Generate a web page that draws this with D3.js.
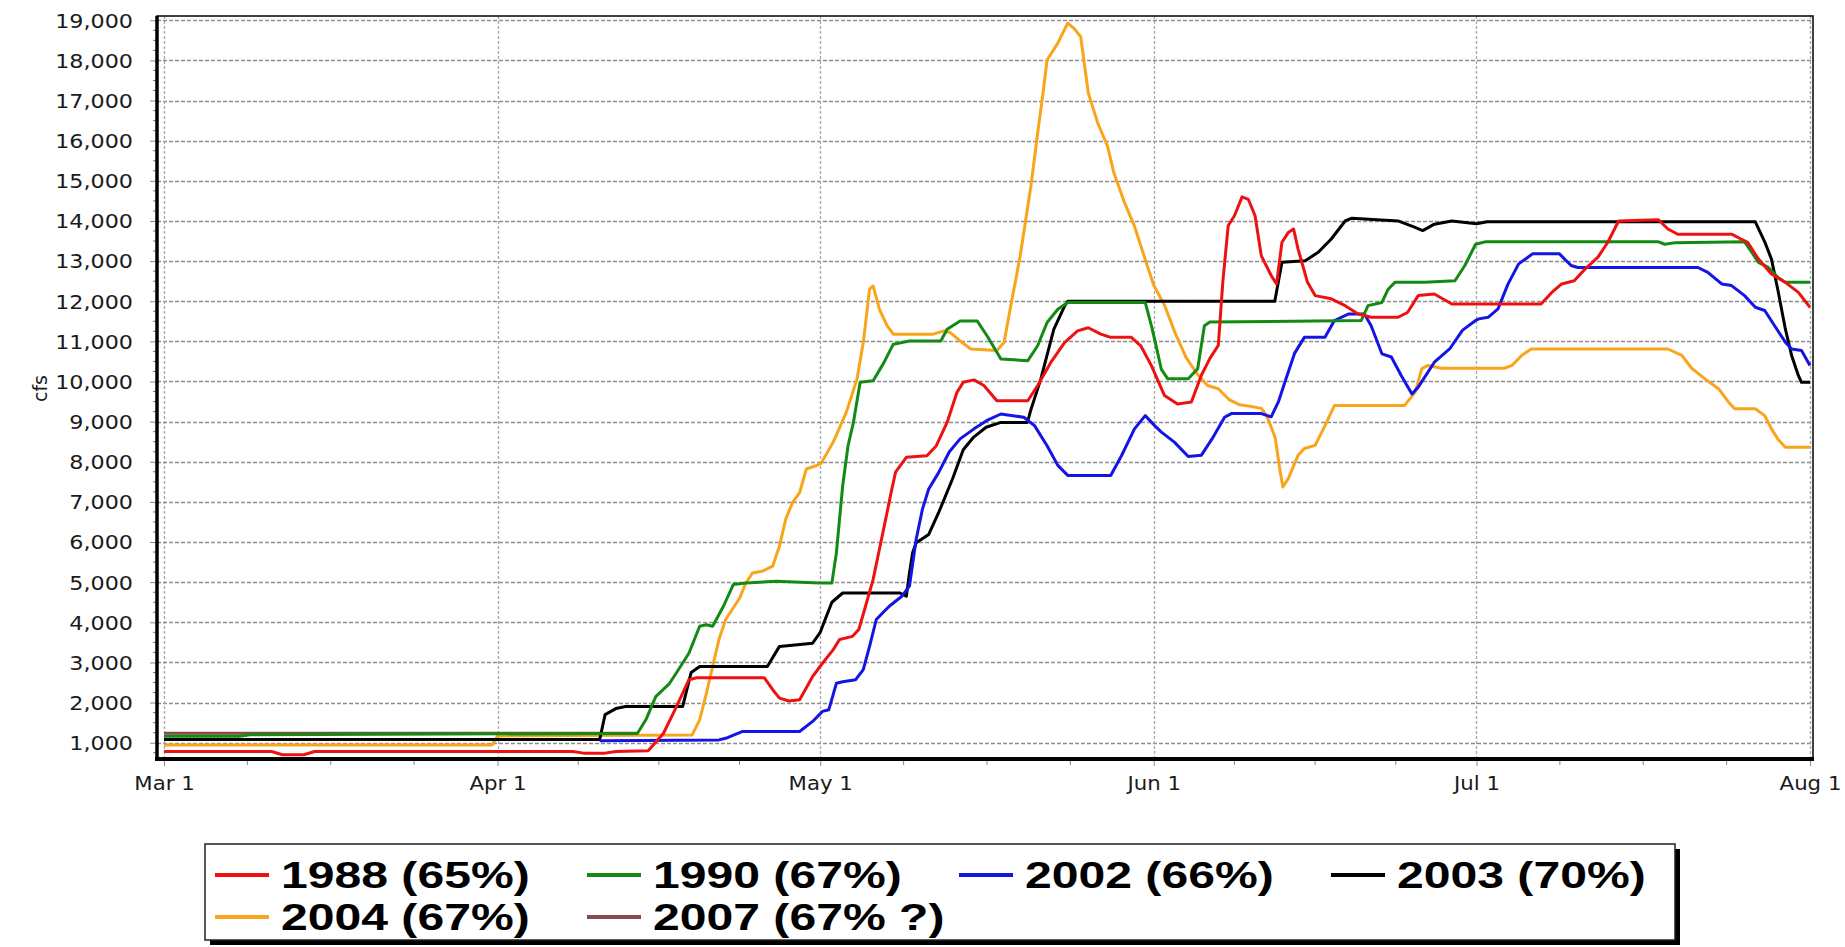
<!DOCTYPE html>
<html>
<head>
<meta charset="utf-8">
<script src="https://cdnjs.cloudflare.com/ajax/libs/d3/7.8.5/d3.min.js"></script>
<style>
	html, body { margin: 0; padding: 0; background: #fff; }
	svg { display: block; }
	.axis-label { font-family: "DejaVu Sans", Verdana, sans-serif; font-size: 19px; fill: #1a1a1a; }
	.legend-text { font-family: "Liberation Sans", Arial, sans-serif; font-weight: bold; font-size: 37px; fill: #000; }
</style>
</head>
<body>
<div id="chart"></div>
<script>

////////////////////////////////////////////////////////////
///////////////////////// Data /////////////////////////////
////////////////////////////////////////////////////////////

var seriesNames  = ["1988 (65%)", "1990 (67%)", "2002 (66%)", "2003 (70%)", "2004 (67%)", "2007 (67% ?)"];
var seriesColors = ["#ee1111", "#138a13", "#1414e6", "#000000", "#f8a51c", "#8b4a4a"];

//[date "MM-DD HH", cfs]
var flow1988 = [
	["03-01",780],["03-11",780],["03-12",700],["03-14",700],["03-15",780],["04-08",780],["04-09",740],["04-11",740],["04-12",780],
	["04-15",800],["04-16 10",1230],["04-17 08",1730],["04-18 05",2230],["04-18 19",2570],["04-19 12",2620],["04-25 19",2620],
	["04-26 14",2320],["04-27 05",2110],["04-28 02",2040],["04-29 02",2070],["04-30 07",2650],["05-01 05",2980],["05-02 05",3320],
	["05-02 19",3570],["05-04",3650],["05-04 14",3820],["05-05 05",4400],["05-05 22",5070],["05-06 12",5820],["05-07 02",6570],
	["05-07 14",7230],["05-08",7740],["05-09",8110],["05-10 22",8150],["05-11 19",8400],["05-12 19",8980],["05-13 17",9730],
	["05-14 07",9980],["05-15 07",10040],["05-16 05",9900],["05-17 10",9520],["05-20 07",9520],["05-21 05",9900],["05-22 10",10470],
	["05-23 17",10970],["05-24 22",11260],["05-25 22",11340],["05-27 02",11180],["05-28",11100],["05-29 22",11100],["05-30 19",10890],
	["05-31 19",10390],["06-02",9650],["06-03 05",9440],["06-04 12",9490],["06-05 10",10150],["06-06 05",10570],["06-07",10900],
	["06-07 10",12470],["06-07 22",13880],["06-08 12",14130],["06-09 05",14600],["06-09 19",14540],["06-10 10",14130],["06-11",13130],
	["06-11 22",12640],["06-12 10",12430],["06-12 22",13470],["06-13 12",13710],["06-14",13800],["06-14 10",13300],["06-15 07",12470],
	["06-16",12140],["06-17 12",12060],["06-18 19",11890],["06-20",11680],["06-21 05",11600],["06-23 17",11600],["06-24 14",11720],
	["06-25 14",12140],["06-27 02",12180],["06-28 17",11930],["07-07",11930],["07-08",12220],["07-08 22",12430],["07-10 02",12510],
	["07-11 02",12800],["07-12 07",13100],["07-13 05",13470],["07-14 05",14000],["07-17 22",14030],["07-18 19",13800],["07-19 17",13670],
	["07-24 17",13670],["07-25 14",13550],["07-26 05",13470],["07-27 05",13050],["07-28 10",12680],["07-29 17",12470],["07-30 22",12220],
	["08-01",11850]
];

var flow1990 = [
	["03-01",1160],["03-08",1160],["03-09",1200],["04-14",1230],["04-14 19",1570],["04-15 17",2150],["04-17",2480],["04-17 22",2860],
	["04-18 19",3230],["04-19 19",3900],["04-20 10",3940],["04-21",3900],["04-22",4400],["04-22 22",4940],["04-24 02",4980],
	["04-26 22",5020],["04-30 22",4980],["05-02 02",4980],["05-02 12",5730],["05-03 02",7400],["05-03 14",8400],["05-04 02",8980],
	["05-04 17",9980],["05-05 22",10020],["05-06 22",10470],["05-07 19",10930],["05-09 07",11010],["05-12 05",11010],["05-12 19",11300],
	["05-14",11510],["05-15 14",11510],["05-16 12",11140],["05-17 19",10560],["05-20 07",10520],["05-21 05",10890],["05-22 02",11470],
	["05-23 02",11800],["05-24",11970],["05-31 05",11970],["05-31 19",11380],["06-01 05",10900],["06-01 17",10300],["06-02 07",10070],
	["06-04 05",10070],["06-05 02",10320],["06-05 17",11390],["06-06 05",11480],["06-20 07",11520],["06-20 22",11890],["06-22 05",11970],
	["06-22 19",12300],["06-23 10",12470],["06-26 05",12470],["06-29",12510],["06-29 22",12890],["06-30 22",13420],["07-01 19",13480],
	["07-17 22",13480],["07-18 12",13420],["07-19 12",13460],["07-25 22",13480],["07-26 14",13220],["07-27 05",12970],["07-28 02",12850],
	["07-29",12600],["07-29 17",12470],["08-01",12470]
];

var flow2002 = [
	["04-10 12",1050],["04-21 14",1070],["04-22 05",1110],["04-23 19",1280],["04-29 02",1280],["04-30 07",1530],["05-01 05",1780],
	["05-01 19",1820],["05-02 12",2480],["05-03 02",2520],["05-04 07",2570],["05-05",2820],["05-05 14",3400],["05-06 05",4070],
	["05-06 19",4230],["05-07 10",4400],["05-08 14",4650],["05-09 07",4900],["05-09 22",6070],["05-10 12",6820],["05-11 02",7320],
	["05-12",7730],["05-13",8250],["05-14",8570],["05-15 07",8820],["05-16 12",9030],["05-17 19",9190],["05-19 22",9110],
	["05-20 22",8900],["05-22 02",8400],["05-23 02",7910],["05-24",7660],["05-28",7660],["05-29",8150],["05-30 05",8820],
	["05-31 05",9150],["06-01 02",8900],["06-01 17",8740],["06-02 22",8490],["06-04 05",8130],["06-05 10",8160],["06-06 10",8570],
	["06-07 14",9110],["06-08 05",9200],["06-11",9200],["06-11 22",9120],["06-12 14",9490],["06-13 05",10000],["06-14 02",10700],
	["06-15",11100],["06-16 22",11100],["06-17 19",11520],["06-19 02",11680],["06-20 14",11680],["06-21 05",11390],["06-22 05",10690],
	["06-23 02",10610],["06-24",10150],["06-25",9690],["06-25 14",9860],["06-27 02",10480],["06-28 12",10810],["06-29 17",11280],
	["06-30 22",11520],["07-01 05",11560],["07-02 02",11600],["07-03",11810],["07-03 22",12420],["07-04 22",12930],["07-06 05",13180],
	["07-08 17",13180],["07-09 19",12890],["07-10 10",12840],["07-21 14",12840],["07-22 12",12720],["07-23 19",12430],["07-24 17",12390],
	["07-25 22",12140],["07-26 22",11850],["07-27 19",11770],["07-28 17",11390],["07-29 17",10980],["07-30 07",10810],["07-31 05",10770],
	["08-01",10400]
];

var flow2003 = [
	["03-01",1080],["04-10 12",1080],["04-11",1700],["04-12",1850],["04-12 22",1900],["04-18 05",1900],["04-19",2750],["04-19 19",2900],
	["04-26 02",2900],["04-27 05",3400],["04-30 07",3480],["05-01",3750],["05-01 12",4100],["05-02 02",4500],["05-03 02",4730],
	["05-08 10",4730],["05-09",4650],["05-09 07",5230],["05-09 14",5730],["05-09 22",5980],["05-11 02",6190],["05-12",6730],
	["05-13 07",7570],["05-14 07",8300],["05-15 05",8600],["05-16 10",8860],["05-17 19",8980],["05-20 06",8980],["05-20 14",9300],
	["05-21 12",10060],["05-22 17",11300],["05-23 17",11880],["05-24",12000],["06-12 06",12000],["06-12 22",12970],["06-15 02",13010],
	["06-16 07",13220],["06-17 12",13550],["06-18 19",14000],["06-19 10",14070],["06-23 17",14000],["06-25 07",13840],["06-26",13760],
	["06-27 02",13920],["06-28 17",14000],["07-01",13930],["07-02",13980],["07-26 22",13980],["07-27 19",13480],["07-28 10",13050],
	["07-29",12300],["07-29 17",11310],["07-30 07",10650],["07-30 22",10150],["07-31 05",9980],["08-01",9980]
];

var flow2004 = [
	["03-01",940],["03-31 12",940],["04-01",1170],["04-19 02",1190],["04-19 19",1570],["04-20 10",2230],["04-21",2900],["04-21 14",3570],
	["04-22 05",4070],["04-23 12",4600],["04-24 02",4980],["04-24 17",5230],["04-25 14",5270],["04-26 14",5400],["04-27 05",5900],
	["04-27 19",6570],["04-28 10",6980],["04-29 02",7230],["04-29 17",7820],["04-30 14",7900],["05-01 02",7960],["05-02 05",8490],
	["05-03 10",9230],["05-04 10",10060],["05-05",10970],["05-05 14",12300],["05-05 22",12380],["05-06 12",11800],["05-07 05",11390],
	["05-07 19",11180],["05-11 12",11180],["05-12 12",11260],["05-13 02",11220],["05-14",11010],["05-15",10810],["05-17 10",10770],
	["05-18 02",10970],["05-18 17",11880],["05-19 14",13130],["05-20 14",14870],["05-21 05",16190],["05-21 17",17190],["05-22 02",18010],
	["05-23 02",18430],["05-24",18930],["05-24 14",18800],["05-25 05",18590],["05-25 22",17190],["05-26 19",16440],["05-27 17",15860],
	["05-28 07",15200],["05-29 07",14450],["05-30 05",13870],["05-31 05",13040],["06-01",12400],["06-02",11900],["06-03",11200],
	["06-04",10600],["06-05",10200],["06-06",9900],["06-07",9820],["06-08",9550],["06-09",9420],["06-10",9380],["06-11",9330],
	["06-11 12",9150],["06-12 07",8600],["06-12 17",7830],["06-13",7370],["06-13 12",7580],["06-14 10",8160],["06-15",8330],
	["06-16",8410],["06-16 22",8900],["06-17 19",9400],["06-24 07",9400],["06-25 07",9730],["06-25 22",10320],["06-26 12",10400],
	["06-27 17",10330],["07-03 14",10330],["07-04 07",10400],["07-05 05",10650],["07-06 02",10810],["07-18 19",10810],["07-20 02",10650],
	["07-21",10330],["07-22 05",10070],["07-23 12",9820],["07-24 10",9490],["07-25",9320],["07-26 22",9320],["07-27 19",9150],
	["07-28 10",8820],["07-29",8570],["07-29 17",8360],["08-01",8360]
];

var flow2007 = [["03-01",1235],["04-14",1235]];

var seriesValues = [flow1988, flow1990, flow2002, flow2003, flow2004, flow2007];

var yTickValues  = d3.range(1000, 19001, 1000);
var monthTicks   = ["03-01", "04-01", "05-01", "06-01", "07-01", "08-01"];
var monthLabels  = ["Mar 1", "Apr 1", "May 1", "Jun 1", "Jul 1", "Aug 1"];
var yAxisTitle   = "cfs";

////////////////////////////////////////////////////////////
///////////////////////// Set-up ///////////////////////////
////////////////////////////////////////////////////////////

var width = 1845,
	height = 947;

var plot = {left: 157, right: 1813, top: 16, bottom: 759};

var parseStamp = d3.utcParse("%Y-%m-%d %H");
function toDate(s) {
	var p = s.split(" ");
	return parseStamp("2001-" + p[0] + " " + (p[1] || "00"));
}

var series = seriesNames.map(function(name, i) {
	return {
		name: name,
		color: seriesColors[i],
		values: seriesValues[i].map(function(d) { return {date: toDate(d[0]), value: d[1]}; })
	};
});

var monthDates = monthTicks.map(toDate);

var x = d3.scaleUtc()
	.domain([monthDates[0], monthDates[monthDates.length - 1]])
	.range([164, 1810]);

var y = d3.scaleLinear()
	.domain([594, 19107])
	.range([plot.bottom, plot.top]);

var svg = d3.select("#chart").append("svg")
	.attr("width", width)
	.attr("height", height)
	.style("background", "#fff");

//Stretch text horizontally, the picture is wider than it is tall
function stretchText(sel, factor) {
	sel.each(function() {
		var w = this.getComputedTextLength();
		d3.select(this)
			.attr("textLength", w * factor)
			.attr("lengthAdjust", "spacingAndGlyphs");
	});
}

////////////////////////////////////////////////////////////
/////////////////////// Gridlines //////////////////////////
////////////////////////////////////////////////////////////

svg.append("g")
	.attr("class", "grid-h")
	.selectAll("line")
	.data(yTickValues)
	.enter().append("line")
	.attr("x1", plot.left)
	.attr("x2", plot.right)
	.attr("y1", function(d) { return Math.round(y(d)) + 0.5; })
	.attr("y2", function(d) { return Math.round(y(d)) + 0.5; })
	.style("stroke", "#8e8e8e")
	.style("stroke-width", 1.3)
	.style("stroke-dasharray", "4,2");

svg.append("g")
	.attr("class", "grid-v")
	.selectAll("line")
	.data(monthDates)
	.enter().append("line")
	.attr("x1", function(d) { return Math.round(x(d)) + 0.5; })
	.attr("x2", function(d) { return Math.round(x(d)) + 0.5; })
	.attr("y1", plot.top)
	.attr("y2", plot.bottom)
	.style("stroke", "#a8a8a8")
	.style("stroke-width", 1.3)
	.style("stroke-dasharray", "3,2");

////////////////////////////////////////////////////////////
///////////////////////// Lines ////////////////////////////
////////////////////////////////////////////////////////////

svg.append("clipPath")
	.attr("id", "plot-clip")
	.append("rect")
	.attr("x", plot.left)
	.attr("y", plot.top)
	.attr("width", plot.right - plot.left)
	.attr("height", plot.bottom - plot.top);

var line = d3.line()
	.x(function(d) { return x(d.date); })
	.y(function(d) { return y(d.value); });

//First series ends up on top, like the original chart
svg.append("g")
	.attr("clip-path", "url(#plot-clip)")
	.selectAll(".flow-line")
	.data(series.slice().reverse())
	.enter().append("path")
	.attr("class", "flow-line")
	.attr("d", function(d) { return line(d.values); })
	.style("fill", "none")
	.style("stroke", function(d) { return d.color; })
	.style("stroke-width", 3)
	.style("stroke-linejoin", "round");

////////////////////////////////////////////////////////////
///////////////////////// Axes /////////////////////////////
////////////////////////////////////////////////////////////

var yAxis = svg.append("g")
	.attr("transform", "translate(" + plot.left + ",0)")
	.call(d3.axisLeft(y)
		.tickValues(yTickValues)
		.tickFormat(d3.format(","))
		.tickSize(7)
		.tickPadding(17));
yAxis.select(".domain").remove();
yAxis.selectAll(".tick line").style("stroke", "#8a8a8a");
yAxis.selectAll(".tick text")
	.attr("class", "axis-label")
	.attr("dy", "0.36em")
	.call(stretchText, 1.17);

//Small ticks between the thousands
svg.append("g")
	.selectAll("line")
	.data(d3.range(750, 19100, 250).filter(function(d) { return d % 1000 !== 0; }))
	.enter().append("line")
	.attr("x1", plot.left - 4)
	.attr("x2", plot.left)
	.attr("y1", function(d) { return y(d); })
	.attr("y2", function(d) { return y(d); })
	.style("stroke", "#777");

var xAxis = svg.append("g")
	.attr("transform", "translate(0," + plot.bottom + ")")
	.call(d3.axisBottom(x)
		.tickValues(monthDates)
		.tickFormat(function(d, i) { return monthLabels[i]; })
		.tickSize(7)
		.tickPadding(11));
xAxis.select(".domain").remove();
xAxis.selectAll(".tick line").style("stroke", "#8a8a8a");
xAxis.selectAll(".tick text")
	.attr("class", "axis-label")
	.call(stretchText, 1.12);

//Quarter month ticks
var quarterTicks = [];
for (var i = 0; i < monthDates.length - 1; i++) {
	for (var q = 1; q < 4; q++) {
		quarterTicks.push(new Date(+monthDates[i] + (monthDates[i + 1] - monthDates[i]) * q / 4));
	}
}
svg.append("g")
	.selectAll("line")
	.data(quarterTicks)
	.enter().append("line")
	.attr("x1", function(d) { return x(d); })
	.attr("x2", function(d) { return x(d); })
	.attr("y1", plot.bottom)
	.attr("y2", plot.bottom + 6)
	.style("stroke", "#8a8a8a");

//Frame around the plot
svg.append("rect")
	.attr("x", plot.left)
	.attr("y", plot.top)
	.attr("width", plot.right - plot.left)
	.attr("height", plot.bottom - plot.top)
	.style("fill", "none")
	.style("stroke", "#111")
	.style("stroke-width", 1.6);
svg.append("line")
	.attr("x1", plot.left).attr("x2", plot.left)
	.attr("y1", plot.top).attr("y2", plot.bottom + 2)
	.style("stroke", "#000")
	.style("stroke-width", 3.5);
svg.append("line")
	.attr("x1", plot.left - 2).attr("x2", plot.right + 1)
	.attr("y1", plot.bottom).attr("y2", plot.bottom)
	.style("stroke", "#000")
	.style("stroke-width", 4);

svg.append("text")
	.attr("class", "axis-label")
	.attr("transform", "translate(40," + ((plot.top + plot.bottom) / 2 + 1) + ")rotate(-90)")
	.attr("text-anchor", "middle")
	.attr("dy", "0.35em")
	.text(yAxisTitle);

////////////////////////////////////////////////////////////
//////////////////////// Legend ////////////////////////////
////////////////////////////////////////////////////////////

var legend = {x: 205, y: 844, width: 1470, height: 96, colWidth: 372, rowHeight: 42, perRow: 4};

//Shadow first, then the box
svg.append("rect")
	.attr("x", legend.x + 5)
	.attr("y", legend.y + 5)
	.attr("width", legend.width)
	.attr("height", legend.height)
	.style("fill", "#000");
svg.append("rect")
	.attr("x", legend.x)
	.attr("y", legend.y)
	.attr("width", legend.width)
	.attr("height", legend.height)
	.style("fill", "#fff")
	.style("stroke", "#222")
	.style("stroke-width", 1.5);

var legendItems = svg.selectAll(".legend-item")
	.data(series)
	.enter().append("g")
	.attr("class", "legend-item")
	.attr("transform", function(d, i) {
		var col = i % legend.perRow,
			row = Math.floor(i / legend.perRow);
		return "translate(" + (legend.x + 10 + col * legend.colWidth) + "," + (legend.y + 31 + row * legend.rowHeight) + ")";
	});

legendItems.append("line")
	.attr("x1", 0)
	.attr("x2", 54)
	.style("stroke", function(d) { return d.color; })
	.style("stroke-width", 4);

legendItems.append("text")
	.attr("class", "legend-text")
	.attr("x", 66)
	.attr("dy", "0.36em")
	.text(function(d) { return d.name; })
	.call(stretchText, 1.3);

</script>
</body>
</html>
